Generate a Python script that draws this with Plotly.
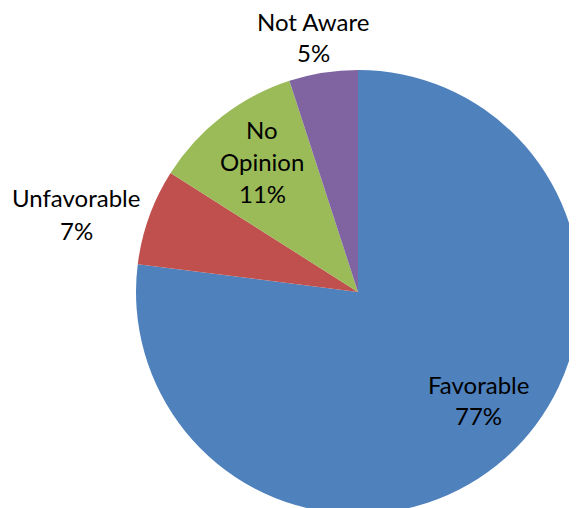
import plotly.graph_objects as go

labels = ["Favorable", "Unfavorable", "No Opinion", "Not Aware"]
values = [77, 7, 11, 5]
colors = ["#4F81BD", "#C0504D", "#9BBB59", "#8064A2"]

W, H = 600, 530
OFF = 8  # page body margin offset

# label placement (pixel centers of each text line, in viewport coords)
label_lines = {
    "Favorable": (["Favorable", "77%"], 478, [384, 415]),
    "Unfavorable": (["Unfavorable", "7%"], 76, [198, 230]),
    "No Opinion": (["No", "Opinion", "11%"], 262, [130, 162, 193]),
    "Not Aware": (["Not Aware", "5%"], 313, [22, 53]),
}

cx_pie, cy_pie, r_pie = 358 - OFF, 292 - OFF, 222

fig = go.Figure(go.Pie(
    labels=labels,
    values=values,
    sort=False,
    direction="clockwise",
    rotation=0,
    marker=dict(colors=colors, line=dict(width=0)),
    textinfo="none",
    hoverinfo="label+percent",
    domain=dict(x=[(cx_pie - r_pie) / W, (cx_pie + r_pie) / W],
                y=[1 - (cy_pie + r_pie) / H, 1 - (cy_pie - r_pie) / H]),
    showlegend=False,
))

annotations = []
for lab, val in zip(labels, values):
    lines, cx, ys = label_lines[lab]
    lines = lines[:-1] + [f"{val}%"]
    for txt, y in zip(lines, ys):
        annotations.append(dict(
            text=txt, x=(cx - OFF) / W, y=1 - (y - OFF) / H,
            xref="paper", yref="paper",
            showarrow=False, xanchor="center", yanchor="middle",
            font=dict(family="Lato", size=24, color="#000000"),
        ))

fig.update_layout(
    width=W, height=H,
    margin=dict(l=0, r=0, t=0, b=0),
    paper_bgcolor="white",
    plot_bgcolor="white",
    annotations=annotations,
)

fig.write_html(
    "out.html",
    post_script="document.documentElement.style.overflow='hidden';"
                "document.body.style.overflow='hidden';",
)
